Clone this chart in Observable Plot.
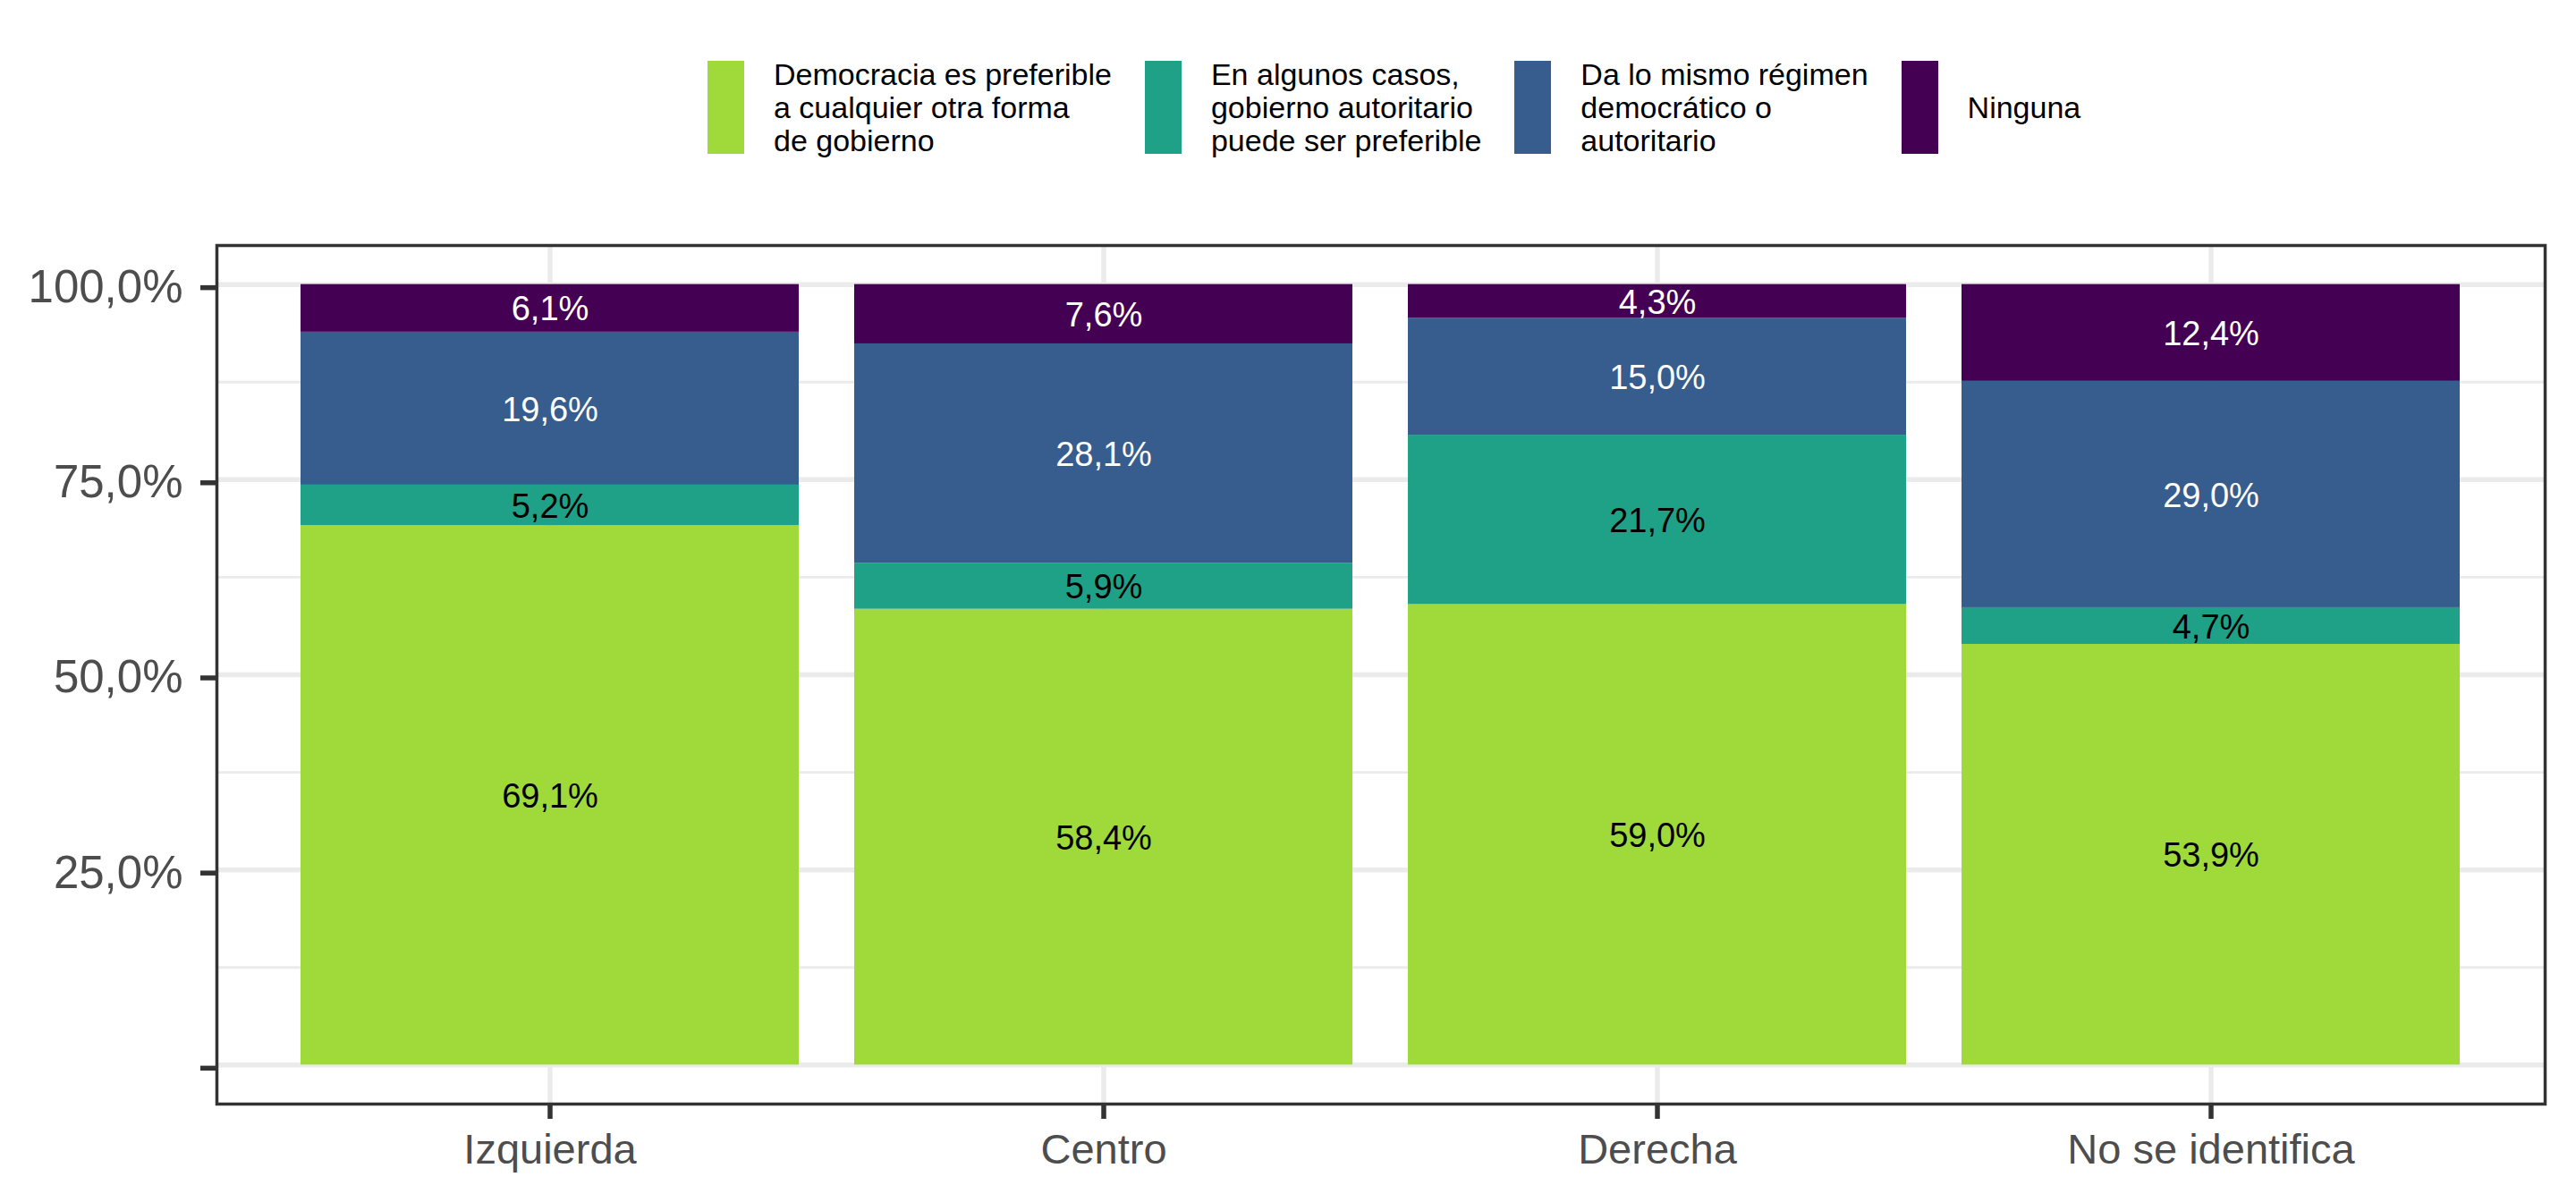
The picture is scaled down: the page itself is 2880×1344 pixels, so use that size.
<!DOCTYPE html>
<html lang="es">
<head>
<meta charset="utf-8">
<title>Preferencia por la democracia según identificación política</title>
<script src="https://cdn.jsdelivr.net/npm/d3@7"></script>
<script src="https://cdn.jsdelivr.net/npm/@observablehq/plot@0.6"></script>
<style>
  html, body { margin: 0; padding: 0; background: #ffffff; }
  #chart { width: 2880px; height: 1344px; font-family: "Liberation Sans", Arial, Helvetica, sans-serif; }
  #legend {
    height: 230px; box-sizing: border-box;
    padding-top: 64.5px; padding-left: 791px;
    display: flex; align-items: flex-start;
  }
  .item { display: flex; align-items: center; margin-right: 37px; height: 111px; }
  .key { width: 41px; height: 104px; margin-right: 33px; flex: none; }
  .lbl { font-size: 34px; line-height: 37px; color: #000; white-space: pre-line; }
  svg { display: block; }
</style>
</head>
<body>
<div id="chart">
  <div id="legend"></div>
</div>
<script>
// Political self-identification groups on the x axis
const categories = ["Izquierda", "Centro", "Derecha", "No se identifica"];

// Answer options, bottom to top of each stacked bar
const responses = [
  "Democracia es preferible\na cualquier otra forma\nde gobierno",
  "En algunos casos,\ngobierno autoritario\npuede ser preferible",
  "Da lo mismo régimen\ndemocrático o\nautoritario",
  "Ninguna"
];

// Percentages per group (same order as categories)
const democracia  = [69.1, 58.4, 59.0, 53.9];
const autoritario = [5.2, 5.9, 21.7, 4.7];
const daLoMismo   = [19.6, 28.1, 15.0, 29.0];
const ninguna     = [6.1, 7.6, 4.3, 12.4];

// Fill colours (viridis, end = 0.8, reversed)
const colors = ["#9FDA3A", "#1FA187", "#365D8D", "#440154"];
// Label text colour on each segment
const labelInk = ["black", "black", "white", "white"];

// Y axis ticks
const yTicks = [0, 0.25, 0.5, 0.75, 1];
const yTickLabels = ["", "25,0%", "50,0%", "75,0%", "100,0%"];
const yMinor = [0.125, 0.375, 0.625, 0.875];

const seriesValues = [democracia, autoritario, daLoMismo, ninguna];

const fmt = v => v.toFixed(1).replace(".", ",") + "%";

const rows = [];
responses.forEach((r, i) => {
  categories.forEach((c, j) => {
    const v = seriesValues[i][j];
    rows.push({category: c, response: r, value: v / 100, label: fmt(v), ink: labelInk[i]});
  });
});

// Legend
const legend = document.getElementById("legend");
responses.forEach((r, i) => {
  const item = document.createElement("div");
  item.className = "item";
  const key = document.createElement("div");
  key.className = "key";
  key.style.background = colors[i];
  const lbl = document.createElement("div");
  lbl.className = "lbl";
  lbl.textContent = r;
  item.append(key, lbl);
  legend.append(item);
});

const font = "'Liberation Sans', Arial, Helvetica, sans-serif";
const stackOpts = {x: "category", y: "value", z: "response", order: responses};

const chart = Plot.plot({
  width: 2880,
  height: 1114,
  marginTop: 44,
  marginBottom: 110,
  marginLeft: 242,
  marginRight: 35,
  style: {fontFamily: font, background: "#ffffff", overflow: "visible"},
  x: {domain: categories, paddingInner: 0.1, paddingOuter: 0.15, align: 0.5, label: null},
  y: {domain: [-0.05, 1.05], label: null},
  color: {domain: responses, range: colors},
  marks: [
    // panel grid
    Plot.ruleY(yMinor, {stroke: "#EBEBEB", strokeWidth: 2.8}),
    Plot.ruleY(yTicks, {stroke: "#EBEBEB", strokeWidth: 5.5}),
    Plot.ruleX(categories, {stroke: "#EBEBEB", strokeWidth: 5.5}),
    // stacked bars
    Plot.barY(rows, {...stackOpts, fill: "response"}),
    // segment labels: dark text on light fills, white text on dark fills
    Plot.text(rows, Plot.stackY({...stackOpts, text: d => d.ink === "black" ? d.label : null,
      fill: "black", fontSize: 38, dy: 1.5})),
    Plot.text(rows, Plot.stackY({...stackOpts, text: d => d.ink === "white" ? d.label : null,
      fill: "white", fontSize: 38, dy: 1.5})),
    // axes
    Plot.axisY({
      ticks: yTicks,
      tickFormat: d => yTickLabels[yTicks.indexOf(d)],
      tickSize: 18, tickPadding: 20, fontSize: 51, dy: 3.5,
      stroke: "#333333", strokeWidth: 5.5, fill: "#4D4D4D", label: null
    }),
    Plot.axisX({
      tickSize: 17, tickPadding: 16, fontSize: 47,
      stroke: "#333333", strokeWidth: 5.5, fill: "#4D4D4D", label: null
    }),
    // panel border
    Plot.frame({stroke: "#333333", strokeWidth: 3.5})
  ]
});

document.getElementById("chart").append(chart);
</script>
</body>
</html>
